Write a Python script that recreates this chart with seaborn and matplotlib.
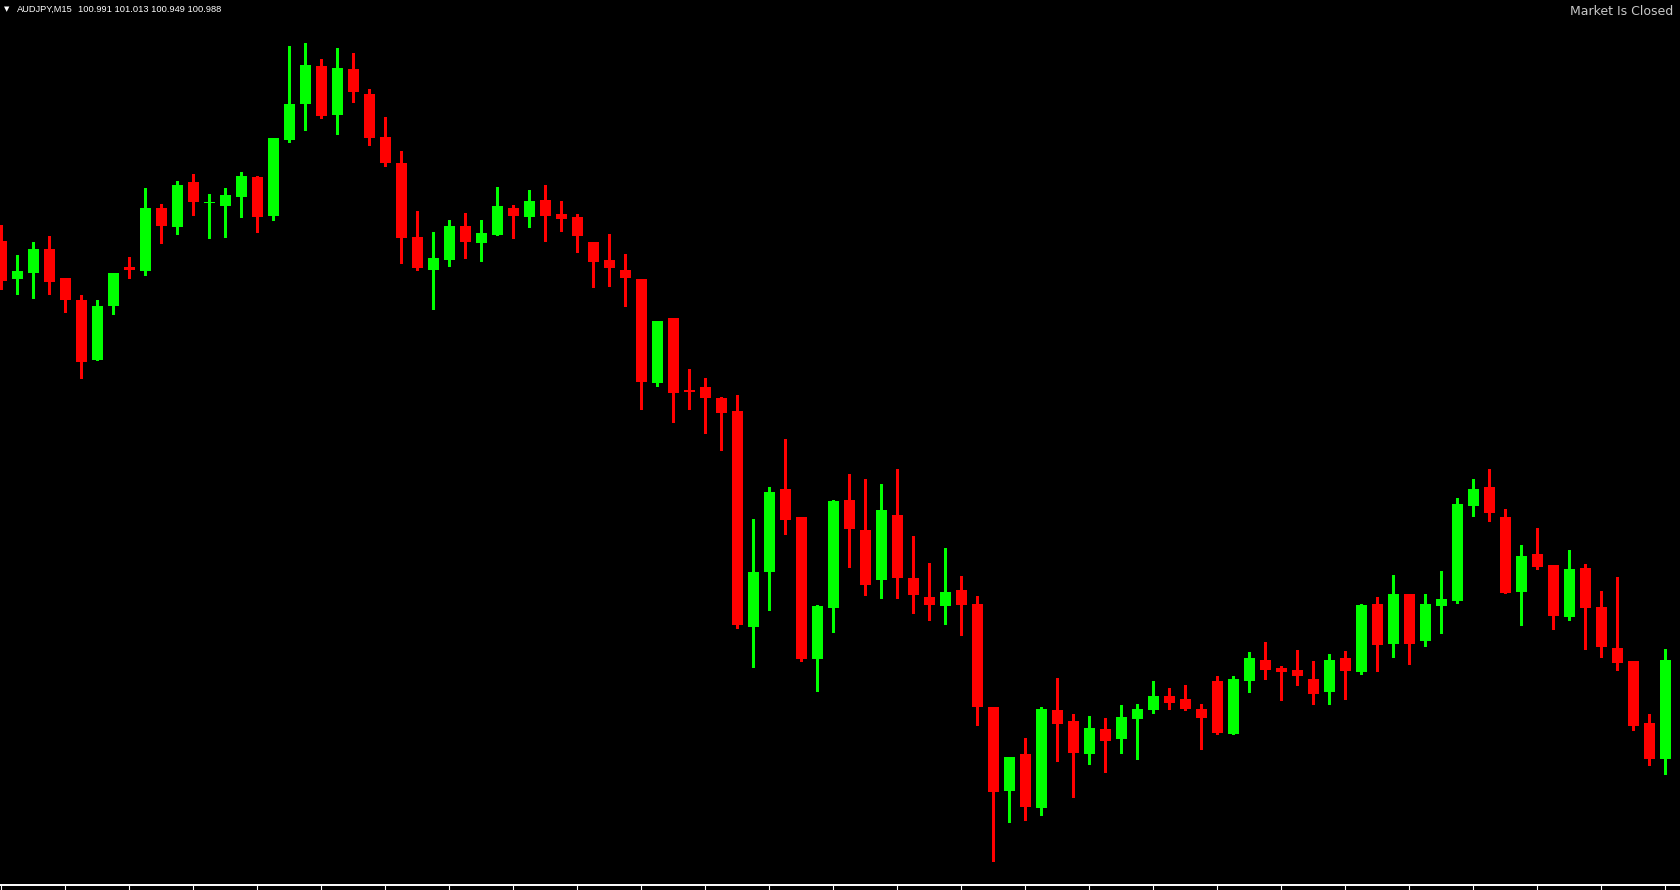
import numpy as np
import pandas as pd
import seaborn as sns
import matplotlib.pyplot as plt

# AUDJPY M15, valors llegits de la captura (sense escala de preus visible)
open_ = [101.759, 101.721, 101.727, 101.751, 101.722, 101.700, 101.640, 101.694, 101.733, 101.729,
         101.792, 101.773, 101.818, 101.797, 101.794, 101.803, 101.823, 101.784, 101.860, 101.896,
         101.934, 101.885, 101.931, 101.906, 101.863, 101.837, 101.763, 101.730, 101.740, 101.774,
         101.757, 101.765, 101.792, 101.783, 101.800, 101.786, 101.783, 101.758, 101.740, 101.730,
         101.721, 101.617, 101.682, 101.610, 101.613, 101.602, 101.589, 101.373, 101.428, 101.511,
         101.483, 101.341, 101.392, 101.500, 101.470, 101.420, 101.485, 101.422, 101.403, 101.394,
         101.410, 101.396, 101.293, 101.209, 101.246, 101.192, 101.290, 101.279, 101.246, 101.271,
         101.261, 101.281, 101.290, 101.304, 101.301, 101.291, 101.319, 101.266, 101.319, 101.340,
         101.332, 101.330, 101.321, 101.308, 101.342, 101.328, 101.396, 101.356, 101.406, 101.359,
         101.394, 101.399, 101.494, 101.513, 101.483, 101.408, 101.446, 101.435, 101.383, 101.432,
         101.393, 101.352, 101.339, 101.277, 101.241]
high = [101.775, 101.745, 101.758, 101.764, 101.722, 101.705, 101.700, 101.727, 101.743, 101.812,
        101.796, 101.819, 101.826, 101.806, 101.812, 101.828, 101.824, 101.862, 101.954, 101.957,
        101.941, 101.952, 101.947, 101.911, 101.883, 101.849, 101.789, 101.768, 101.780, 101.787,
        101.780, 101.813, 101.795, 101.810, 101.815, 101.799, 101.786, 101.758, 101.766, 101.746,
        101.721, 101.679, 101.682, 101.631, 101.622, 101.603, 101.605, 101.481, 101.513, 101.561,
        101.483, 101.395, 101.500, 101.526, 101.521, 101.516, 101.531, 101.464, 101.437, 101.452,
        101.424, 101.404, 101.293, 101.243, 101.262, 101.293, 101.322, 101.286, 101.284, 101.282,
        101.295, 101.296, 101.319, 101.312, 101.315, 101.296, 101.324, 101.324, 101.348, 101.358,
        101.334, 101.350, 101.339, 101.346, 101.349, 101.396, 101.403, 101.425, 101.406, 101.406,
        101.429, 101.502, 101.521, 101.531, 101.491, 101.455, 101.472, 101.435, 101.450, 101.436,
        101.409, 101.423, 101.339, 101.286, 101.351]
low = [101.711, 101.706, 101.702, 101.706, 101.688, 101.622, 101.640, 101.686, 101.722, 101.725,
       101.757, 101.766, 101.785, 101.762, 101.763, 101.783, 101.768, 101.780, 101.858, 101.870,
       101.882, 101.866, 101.898, 101.855, 101.834, 101.737, 101.730, 101.691, 101.734, 101.742,
       101.739, 101.765, 101.762, 101.773, 101.759, 101.769, 101.748, 101.713, 101.714, 101.694,
       101.591, 101.614, 101.578, 101.591, 101.567, 101.550, 101.372, 101.333, 101.390, 101.466,
       101.339, 101.309, 101.368, 101.433, 101.405, 101.402, 101.402, 101.387, 101.380, 101.376,
       101.365, 101.275, 101.139, 101.178, 101.180, 101.185, 101.239, 101.203, 101.236, 101.228,
       101.247, 101.241, 101.287, 101.291, 101.290, 101.251, 101.266, 101.266, 101.308, 101.321,
       101.300, 101.315, 101.296, 101.296, 101.301, 101.326, 101.329, 101.343, 101.336, 101.354,
       101.367, 101.397, 101.484, 101.479, 101.407, 101.375, 101.431, 101.371, 101.380, 101.351,
       101.343, 101.330, 101.270, 101.235, 101.226]
close = [101.719, 101.729, 101.751, 101.718, 101.700, 101.638, 101.694, 101.727, 101.730, 101.792,
         101.774, 101.815, 101.798, 101.798, 101.805, 101.824, 101.783, 101.862, 101.896, 101.935,
         101.884, 101.932, 101.908, 101.862, 101.837, 101.762, 101.732, 101.742, 101.774, 101.758,
         101.767, 101.794, 101.784, 101.799, 101.784, 101.781, 101.764, 101.738, 101.732, 101.722,
         101.618, 101.679, 101.607, 101.608, 101.602, 101.587, 101.375, 101.428, 101.508, 101.480,
         101.341, 101.394, 101.499, 101.471, 101.415, 101.490, 101.422, 101.405, 101.395, 101.408,
         101.395, 101.293, 101.208, 101.243, 101.193, 101.291, 101.276, 101.247, 101.272, 101.259,
         101.283, 101.291, 101.304, 101.297, 101.291, 101.282, 101.267, 101.321, 101.342, 101.330,
         101.328, 101.324, 101.306, 101.340, 101.329, 101.395, 101.355, 101.406, 101.356, 101.396,
         101.401, 101.496, 101.511, 101.487, 101.407, 101.444, 101.433, 101.384, 101.431, 101.392,
         101.353, 101.337, 101.274, 101.241, 101.340]

df = pd.DataFrame({"open": open_, "high": high, "low": low, "close": close})
df["x"] = np.arange(len(df))
df["up"] = df["close"] >= df["open"]
df["color"] = np.where(df["up"], "#00ff00", "#ff0000")
df["bottom"] = df[["open", "close"]].min(axis=1)
df["height"] = (df["close"] - df["open"]).abs().clip(lower=0.0012)

sns.set_theme(style="dark", rc={"axes.facecolor": "black", "figure.facecolor": "black"})

fig = plt.figure(figsize=(16.81, 8.90), dpi=100)
ax = fig.add_axes([0, 5 / 890, 1, 885 / 890])
ax.set_facecolor("black")

# Metxes
ax.vlines(df["x"], df["low"], df["high"], colors=df["color"], linewidth=0.9, antialiased=False)
# Cossos
ax.bar(df["x"], df["height"], bottom=df["bottom"], width=0.6875, color=df["color"],
       linewidth=0, antialiased=False)

ax.set_xlim(-0.081, 104.98)
ax.set_ylim(101.115, 102.0)
ax.grid(False)
for s in ["top", "right", "left"]:
    ax.spines[s].set_visible(False)
ax.spines["bottom"].set_color("white")
ax.spines["bottom"].set_linewidth(1.4)
ax.set_xticks(np.arange(0, 105, 4))
ax.set_yticks([])
ax.tick_params(axis="x", colors="white", length=4, width=0.8, direction="out",
               bottom=True, labelbottom=False)

fig.text(4 / 1681, 1 - 9.5 / 890, "\u25bc", color="white", fontsize=5, va="center", ha="left",
         family="DejaVu Sans")
fig.text(17 / 1681, 1 - 9.5 / 890, "AUDJPY,M15", color="white", fontsize=6.7,
         va="center", ha="left", family="Liberation Sans")
fig.text(78 / 1681, 1 - 9.5 / 890, "100.991 101.013 100.949 100.988", color="white",
         fontsize=6.7, va="center", ha="left", family="Liberation Sans")
fig.text(1673 / 1681, 1 - 11.5 / 890, "Market Is Closed", color="#c8c8c8", fontsize=9,
         va="center", ha="right")

fig.savefig("out.png", dpi=100, facecolor="black")
